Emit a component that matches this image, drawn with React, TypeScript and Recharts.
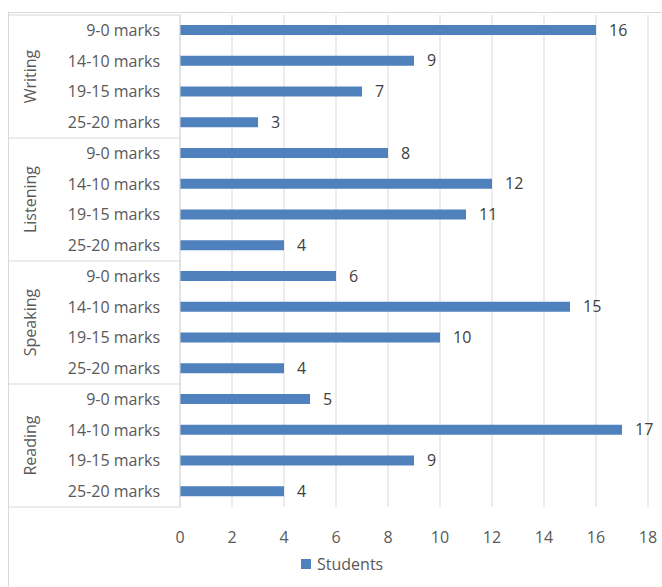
import React from "react";
import { BarChart, Bar, XAxis, YAxis, CartesianGrid, LabelList } from "recharts";

if (typeof document !== "undefined") {
  document.body.style.margin = "0";
  document.body.style.overflow = "hidden";
}

const groups = ["Writing", "Listening", "Speaking", "Reading"];
const bands = ["9-0 marks", "14-10 marks", "19-15 marks", "25-20 marks"];
const writing = [16, 9, 7, 3];
const listening = [8, 12, 11, 4];
const speaking = [6, 15, 10, 4];
const reading = [5, 17, 9, 4];
const xTicks = [0, 2, 4, 6, 8, 10, 12, 14, 16, 18];
const seriesName = "Students";

const seriesByGroup = [writing, listening, speaking, reading];
const data = groups.flatMap((g, gi) =>
  bands.map((b, bi) => ({ key: `${g}|${b}`, group: g, band: b, students: seriesByGroup[gi][bi] }))
);

const PAGE_W = 662;
const PAGE_H = 587;
const OFF = 8;
const W = 654;
const H = 579;
const XAXIS_H = 30;
const M = { top: 7, right: 14, bottom: 50, left: 0 };
const plotTop = M.top;
const plotBottom = H - M.bottom - XAXIS_H;
const bandH = (plotBottom - plotTop) / data.length;
const FONT = "'Open Sans', 'Liberation Sans', sans-serif";
const FS = 16;
const GRID = "#d9d9d9";
const TXT = "#595959";
const BAR = "#4f81bd";

const YTick = (props: any) => {
  const { y, payload, index } = props;
  const d = data[index];
  const top = y - bandH / 2;
  return (
    <g>
      <text x={152} y={y} dy={5.5} textAnchor="end" fontSize={FS} fill={TXT} fontFamily={FONT}>
        {d ? d.band : payload.value}
      </text>
      {index % 4 === 0 && (
        <>
          <line x1={1} x2={172} y1={top} y2={top} stroke={GRID} strokeWidth={1} />
          <text
            x={22}
            y={top + bandH * 2}
            transform={`rotate(-90 22 ${top + bandH * 2})`}
            textAnchor="middle"
            dy={5.5}
            fontSize={FS}
            fill={TXT}
            fontFamily={FONT}
          >
            {d.group}
          </text>
        </>
      )}
      {index === data.length - 1 && (
        <line x1={1} x2={172} y1={y + bandH / 2} y2={y + bandH / 2} stroke={GRID} strokeWidth={1} />
      )}
    </g>
  );
};

const XTick = (props: any) => {
  const { x, payload } = props;
  return (
    <text x={x} y={plotBottom + 36} textAnchor="middle" fontSize={FS} fill={TXT} fontFamily={FONT}>
      {payload.value}
    </text>
  );
};

export default function App() {
  return (
    <div style={{ position: "relative", width: PAGE_W, height: PAGE_H, overflow: "hidden", background: "#fff" }}>
      <div
        style={{
          position: "absolute",
          left: OFF,
          top: OFF + 4,
          width: W,
          height: H - 4,
          borderTop: `1px solid ${GRID}`,
          borderLeft: `1px solid ${GRID}`,
          boxSizing: "border-box",
        }}
      />
      <div style={{ position: "absolute", left: OFF, top: OFF, width: W, height: H }}>
        <BarChart width={W} height={H} data={data} layout="vertical" margin={M} barCategoryGap={0}>
          <CartesianGrid horizontal={false} vertical stroke={GRID} />
          <XAxis
            type="number"
            domain={[0, 18]}
            ticks={xTicks}
            axisLine={false}
            tickLine={false}
            tick={<XTick />}
            interval={0}
            height={XAXIS_H}
          />
          <YAxis
            type="category"
            dataKey="key"
            width={172}
            axisLine={{ stroke: GRID }}
            tickLine={false}
            tick={<YTick />}
            interval={0}
          />
          <Bar dataKey="students" name={seriesName} fill={BAR} barSize={10} isAnimationActive={false}>
            <LabelList dataKey="students" position="right" offset={13} fontSize={FS} fill="#404040" fontFamily={FONT} />
          </Bar>
        </BarChart>
      </div>
      <div
        style={{
          position: "absolute",
          left: OFF + 293,
          top: OFF + 546,
          height: 20,
          display: "flex",
          alignItems: "center",
          fontFamily: FONT,
          fontSize: FS,
          color: TXT,
        }}
      >
        <span style={{ display: "inline-block", width: 10, height: 10, background: BAR, marginRight: 6 }} />
        <span>{seriesName}</span>
      </div>
    </div>
  );
}
